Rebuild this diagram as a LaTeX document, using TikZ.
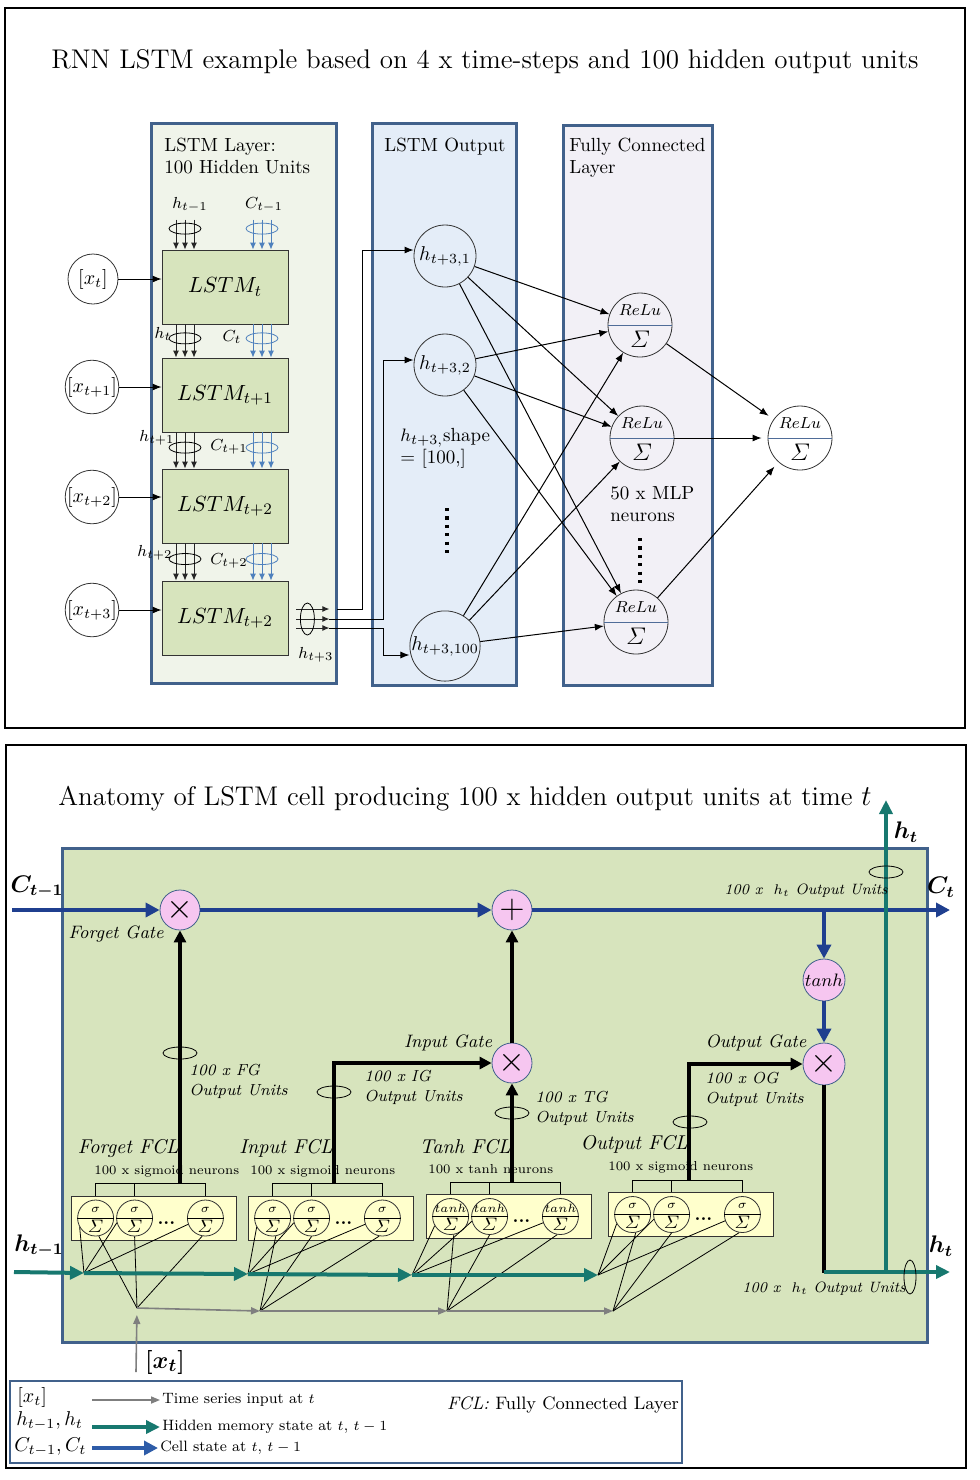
\documentclass[tikz,border=0pt]{standalone}
\usepackage{amsmath,amsfonts,bm}
\usepackage{tikz}
\usetikzlibrary{arrows.meta,positioning,calc}
\usepackage{xcolor}

\definecolor{panelblue}{HTML}{41618B}
\definecolor{lstmfill}{HTML}{F0F4EA}
\definecolor{outfill}{HTML}{E4EDF8}
\definecolor{fcfill}{HTML}{F2F0F6}
\definecolor{boxgreen}{HTML}{D7E4BD}
\definecolor{gatepink}{HTML}{F6C6F0}
\definecolor{cellblue}{HTML}{1F3F8F}
\definecolor{legblue}{HTML}{2E5CA8}
\definecolor{hidteal}{HTML}{17786F}
\definecolor{inputgrey}{HTML}{7F7F7F}
\definecolor{fclyellow}{HTML}{FFFFCC}
\definecolor{cbundlecol}{HTML}{4F81BD}
\definecolor{splitblue}{HTML}{4F6C98}

\tikzset{
  panel/.style={draw=panelblue, line width=1.5pt},
  paneltext/.style={font=\fontsize{9.5}{11}\selectfont, align=left, inner sep=2pt},
  lstmbox/.style={rectangle, draw=black!80, fill=boxgreen, minimum width=63pt, minimum height=37pt, font=\fontsize{11}{13}\selectfont},
  xin/.style={circle, draw=black!80, minimum size=25pt, inner sep=0pt, font=\fontsize{10}{12}\selectfont},
  hunit/.style={circle, draw=black!80, minimum size=31pt, inner sep=0pt, font=\fontsize{10}{12}\selectfont},
  reluneuron/.style={circle, draw=black!80, minimum size=32pt, inner sep=0pt},
  smallmath/.style={font=\fontsize{8}{9}\selectfont, inner sep=0pt},
  thinarrow/.style={draw=black, line width=0.5pt, -{Latex[length=4.5pt,width=3.5pt]}},
  hbundle/.style={draw=black!85, line width=0.5pt, -{Latex[length=3.5pt,width=3pt]}},
  cbundle/.style={draw=cbundlecol, line width=0.5pt, -{Latex[length=3.5pt,width=3pt]}},
  dotline/.style={draw=black, line width=1.6pt, dash pattern=on 1.6pt off 2.6pt},
  gate/.style={circle, draw=panelblue, fill=gatepink, minimum size=20pt, inner sep=0pt, font=\fontsize{19}{19}\selectfont},
  cellarrow/.style={draw=cellblue, line width=2pt, -{Triangle[length=7pt,width=7pt]}},
  tealarrow/.style={draw=hidteal, line width=2pt, -{Triangle[length=7pt,width=6.5pt]}},
  greyarrow/.style={draw=inputgrey, line width=0.8pt, -{Triangle[length=4.5pt,width=3.5pt]}},
  gateline/.style={draw=black, line width=2pt, -{Triangle[length=6pt,width=6pt]}},
  fan/.style={draw=black, line width=0.4pt},
  fclbox/.style={rectangle, draw=black!80, fill=fclyellow, minimum width=82.5pt, minimum height=22pt, inner sep=0pt},
  fclneuron/.style={circle, draw=black!80, minimum size=18pt, inner sep=0pt},
  gatetext/.style={font=\fontsize{9}{11}\selectfont\itshape, inner sep=1pt},
  unittext/.style={font=\fontsize{8}{10}\selectfont\itshape, align=left, inner sep=1pt},
  subtext/.style={font=\fontsize{6.5}{7}\selectfont, inner sep=0pt},
  legtext/.style={font=\fontsize{7.5}{9}\selectfont, inner sep=1pt},
  legmath/.style={font=\fontsize{10}{11}\selectfont, inner sep=1pt},
  statelabel/.style={font=\fontsize{12}{12}\selectfont, inner sep=1pt},
}

\newcommand{\reluunit}[2]{%
  \node[reluneuron] (#1) at (#2) {};
  \draw[splitblue, line width=0.5pt] (#1.west) -- (#1.east);
  \node[font=\fontsize{8}{8}\selectfont, inner sep=0pt] at ([yshift=7.5pt]#1.center) {$ReLu$};
  \node[font=\fontsize{12}{12}\selectfont, inner sep=0pt] at ([yshift=-7pt]#1.center) {$\varSigma$};
}
\newcommand{\fclunit}[3]{%
  \node[fclneuron] (#1) at (#2) {};
  \draw[line width=0.4pt] (#1.west) -- (#1.east);
  \node[font=\fontsize{6.5}{6.5}\selectfont, inner sep=0pt] at ([yshift=4.2pt]#1.center) {#3};
  \node[font=\fontsize{9}{9}\selectfont, inner sep=0pt] at ([yshift=-4pt]#1.center) {$\varSigma$};
}

\begin{document}
\begin{tikzpicture}[x=0.5pt, y=-0.5pt]
\useasboundingbox (0,0) rectangle (980,1480);

% ---------------- top: unrolled network
\draw[line width=0.6pt] (5,8) rectangle (965,728);
\node[font=\fontsize{13.5}{16}\selectfont] (toptitle) at (485,62) {RNN LSTM example based on 4 x time-steps and 100 hidden output units};

\draw[panel, fill=lstmfill] (151,123) rectangle (336,683);
\draw[panel, fill=outfill] (372,123) rectangle (516,685);
\draw[panel, fill=fcfill] (563,125) rectangle (712,685);
\node[paneltext, anchor=north west] (lstmhead) at (160,134) {LSTM Layer:\\100 Hidden Units};
\node[paneltext, anchor=north west] (outhead) at (380,134) {LSTM Output};
\node[paneltext, anchor=north west] (fchead) at (565,134) {Fully Connected\\Layer};

\node[lstmbox] (lstm0) at (225,287) {$LSTM_t$};
\node[lstmbox] (lstm1) at (225,395) {$LSTM_{t+1}$};
\node[lstmbox] (lstm2) at (225,506) {$LSTM_{t+2}$};
\node[lstmbox] (lstm3) at (225,618) {$LSTM_{t+2}$};

\node[xin] (x0) at (93,279) {$[x_t]$};
\node[xin] (x1) at (92,387) {$[x_{t+1}]$};
\node[xin] (x2) at (92,497) {$[x_{t+2}]$};
\node[xin] (x3) at (92,610) {$[x_{t+3}]$};
\draw[thinarrow] (x0) -- (x0 -| lstm0.west);
\draw[thinarrow] (x1) -- (x1 -| lstm1.west);
\draw[thinarrow] (x2) -- (x2 -| lstm2.west);
\draw[thinarrow] (x3) -- (x3 -| lstm3.west);

% state bundles between the steps
\foreach \dx in {-9,0,9} {
  \draw[hbundle] ($(lstm0.north)+(\dx-40,-30)$) -- ($(lstm0.north)+(\dx-40,0)$);
  \draw[cbundle] ($(lstm0.north)+(\dx+37,-30)$) -- ($(lstm0.north)+(\dx+37,0)$);
}
\draw ($(lstm0.north)+(-40,-21)$) ellipse [x radius=16, y radius=5.5];
\draw[cbundlecol] ($(lstm0.north)+(37,-21)$) ellipse [x radius=16, y radius=5.5];
\foreach \a/\b in {lstm0/lstm1,lstm1/lstm2,lstm2/lstm3} {
  \foreach \dx in {-9,0,9} {
    \draw[hbundle] ($(\a.south)+(\dx-40,0)$) -- ($(\b.north)+(\dx-40,0)$);
    \draw[cbundle] ($(\a.south)+(\dx+37,0)$) -- ($(\b.north)+(\dx+37,0)$);
  }
  \draw ($(\a.south)!0.42!(\b.north)+(-40,0)$) ellipse [x radius=16, y radius=5.5];
  \draw[cbundlecol] ($(\a.south)!0.42!(\b.north)+(37,0)$) ellipse [x radius=16, y radius=5.5];
}
\node[smallmath] at (190,205) {$h_{t-1}$};
\node[smallmath] at (264,205) {$C_{t-1}$};
\node[smallmath] at (163,334) {$h_t$};
\node[smallmath] at (232,337) {$C_t$};
\node[smallmath] at (157,438) {$h_{t+1}$};
\node[smallmath] at (229,447) {$C_{t+1}$};
\node[smallmath] at (155,553) {$h_{t+2}$};
\node[smallmath] at (229,561) {$C_{t+2}$};
\node[smallmath] at (316,655) {$h_{t+3}$};

% last hidden state out
\foreach \dy/\k in {-9/1,1/2,10/3} {
  \draw[hbundle] ($(lstm3.east)+(8,\dy)$) -- ++(33,0) coordinate (hout\k);
}
\draw ($(lstm3.east)+(19,1)$) ellipse [x radius=7, y radius=16];

\node[hunit] (h1) at (445,256) {$h_{t+3,1}$};
\node[hunit] (h2) at (445,365) {$h_{t+3,2}$};
\node[hunit] (h100) at (445,646) {$h_{t+3,100}$};
\draw[thinarrow] ($(hout1)+(8,0)$) -- ++(25,0) |- ([yshift=3pt]h1.west);
\draw[thinarrow] (hout2) -- ++(54,0) |- ([yshift=2.5pt]h2.west);
\draw[thinarrow] (hout3) -- ++(54,0) |- ([yshift=-4.5pt]h100.west);
\node[paneltext, anchor=north west] (shape) at (396,424) {$h_{t+3,}$shape\\= [100,]};
\draw[dotline] (447,508) -- (447,556);

\reluunit{fc1}{640,325}
\reluunit{fc2}{642,438}
\reluunit{fc3}{636,622}
\reluunit{fcout}{800,438}
\node[paneltext, anchor=north west] (mlp) at (606,482) {50 x MLP\\neurons};
\draw[dotline] (640,538) -- (640,584);

\foreach \s in {h1,h2,h100}
  \foreach \t in {fc1,fc2,fc3}
    \draw[thinarrow] (\s) -- (\t);
\foreach \s in {fc1,fc2,fc3}
  \draw[thinarrow, shorten >=3pt] (\s) -- (fcout);

% ---------------- bottom: inside one cell
\draw[line width=0.6pt] (6,745) rectangle (966,1468);
\node[font=\fontsize{13.5}{15}\selectfont] (bottitle) at (465,799) {Anatomy of LSTM cell producing 100 x hidden output units at time $t$};
\draw[panel, fill=boxgreen] (62,848) rectangle (927,1342);

\node[gate] (fgate) at (180,910) {$\times$};
\node[gate] (addgate) at (512,910) {$+$};
\node[gate] (inmul) at (512,1063) {$\times$};
\node[gate, minimum size=21pt, font=\fontsize{9.5}{10}\selectfont] (tanhgate) at (824,980) {$tanh$};
\node[gate, minimum size=21pt] (outmul) at (824,1064) {$\times$};

\coordinate (hin) at (14,1272);
\coordinate (ht1) at (84,1273);
\coordinate (ht2) at (248,1274);
\coordinate (ht3) at (412,1275);
\coordinate (ht4) at (598,1275);
\coordinate (xin) at (136,1372);
\coordinate (xg1) at (137,1308);
\coordinate (xg2) at (260,1311);
\coordinate (xg3) at (447,1311);
\coordinate (xg4) at (613,1311);

% the four fully connected layers
\foreach \i/\cx/\cy/\sym/\ttl/\subt/\subx/\gx in {%
  1/153.5/1218/{$\sigma$}/Forget FCL/100 x sigmoid neurons/94/180,
  2/330.5/1218/{$\sigma$}/Input FCL/100 x sigmoid neurons/250/334,
  3/508.5/1216.5/{$tanh$}/Tanh FCL/100 x tanh neurons/428/512,
  4/690.5/1214.5/{$\sigma$}/Output FCL/100 x sigmoid neurons/608/689}{
  \node[fclbox] (fcl\i) at (\cx,\cy) {};
  \fclunit{n\i-1}{$(fcl\i.west)+(25,0)$}{\sym}
  \fclunit{n\i-2}{$(fcl\i.west)+(64,0)$}{\sym}
  \fclunit{n\i-3}{$(fcl\i.east)+(-31,0)$}{\sym}
  \node[font=\fontsize{9}{9}\selectfont\bfseries, inner sep=0pt] at ($(n\i-2)!0.45!(n\i-3)+(0,5)$) {...};
  \draw[line width=0.4pt] (n\i-1 |- fcl\i.north) -- ++(0,-12) -| (n\i-3 |- fcl\i.north);
  \draw[line width=0.4pt] (n\i-2 |- fcl\i.north) -- ++(0,-12);
  \node[subtext, anchor=west] at (\subx,{\cy-47}) {\subt};
  \node[gatetext, anchor=east, font=\fontsize{10}{11}\selectfont\itshape] at ({\gx+1},{\cy-70}) {\ttl};
  \coordinate (gl\i) at (\gx,{\cy-34});
  \foreach \k/\ang in {1/210,2/195,3/200}
    \draw[fan] (ht\i) -- (n\i-\k.\ang);
  \foreach \k/\ang in {1/-80,2/-90,3/-100}
    \draw[fan] (xg\i) -- (n\i-\k.\ang);
}

% cell state
\draw[cellarrow] (12,910) -- (fgate);
\draw[cellarrow] (fgate) -- (addgate);
\draw[cellarrow] (addgate) -- (950,910);
\draw[cellarrow] (addgate -| tanhgate) -- (tanhgate);
\draw[cellarrow] (tanhgate) -- (outmul);

% gates
\draw[gateline] (gl1) -- (fgate);
\draw[gateline] (gl2) |- (inmul);
\draw[gateline] (gl3) -- (inmul);
\draw[gateline] (inmul) -- (addgate);
\draw[gateline] (gl4) |- (outmul);
\draw[line width=2pt] (outmul) -- (824,1273);
\draw (180,1053) ellipse [x radius=17, y radius=6];
\draw (334,1092) ellipse [x radius=17, y radius=6];
\draw (512,1113) ellipse [x radius=17, y radius=6];
\draw (690,1122) ellipse [x radius=17, y radius=6];

\node[gatetext, anchor=east] at (166,934) {Forget Gate};
\node[gatetext] at (448,1043) {Input Gate};
\node[gatetext] at (756,1043) {Output Gate};
\node[unittext, anchor=north west] at (187,1062) {100 x FG\\Output Units};
\node[unittext, anchor=north west] at (362,1068) {100 x IG\\Output Units};
\node[unittext, anchor=north west] at (533,1089) {100 x TG\\Output Units};
\node[unittext, anchor=north west] at (703,1070) {100 x OG\\Output Units};

% hidden state and input
\draw[tealarrow] (hin) -- (ht1);
\draw[tealarrow] (ht1) -- (ht2);
\draw[tealarrow] (ht2) -- (ht3);
\draw[tealarrow] (ht3) -- (ht4);
\draw[tealarrow] (824,1272) -- (950,1272);
\draw[tealarrow] (886,1272) -- (886,800);
\draw (886,872) ellipse [x radius=17, y radius=6];
\draw (910,1277) ellipse [x radius=6, y radius=17];
\draw[greyarrow, shorten >=3.5pt] (xin) -- (xg1);
\draw[greyarrow] (xg1) -- (xg2);
\draw[greyarrow] (xg2) -- (xg3);
\draw[greyarrow] (xg3) -- (xg4);

\node[statelabel] at (37,887) {$\bm{C_{t-1}}$};
\node[statelabel] at (941,887) {$\bm{C_t}$};
\node[statelabel] at (39,1246) {$\bm{h_{t-1}}$};
\node[statelabel] at (941,1246) {$\bm{h_t}$};
\node[statelabel] at (906,832) {$\bm{h_t}$};
\node[font=\fontsize{12.5}{13}\selectfont] at (165,1362) {$\bm{[x_t]}$};
\node[unittext, font=\fontsize{7.5}{9}\selectfont\itshape] at (806,891) {100 x \ $h_t$ Output Units};
\node[unittext, font=\fontsize{7.5}{9}\selectfont\itshape] at (824,1289) {100 x \ $h_t$ Output Units};

% legend
\draw[draw=panelblue, line width=0.8pt, fill=white] (10,1381) rectangle (682,1463);
\node[legmath, anchor=west] (lk1) at (15,1397) {$[x_t]$};
\node[legmath, anchor=west] (lk2) at (14,1421) {$h_{t-1}, h_t$};
\node[legmath, anchor=west] (lk3) at (12,1447) {$C_{t-1}, C_t$};
\node[legtext, anchor=west] (lt1) at (160,1400) {Time series input at $t$};
\node[legtext, anchor=west] (lt2) at (160,1427) {Hidden memory state at $t$, $t-1$};
\node[legtext, anchor=west] (lt3) at (158,1448) {Cell state at $t$, $t-1$};
\coordinate (la1) at (92,1400);
\coordinate (la2) at (92,1427);
\coordinate (la3) at (92,1448);
\draw[greyarrow] (la1) -- (lt1.west);
\draw[tealarrow] (la2) -- (lt2.west);
\draw[cellarrow, draw=legblue] (la3) -- (lt3.west);
\node[anchor=west, font=\fontsize{9}{11}\selectfont] (fclnote) at (440,1405) {\textit{FCL:} Fully Connected Layer};
\end{tikzpicture}
\end{document}
